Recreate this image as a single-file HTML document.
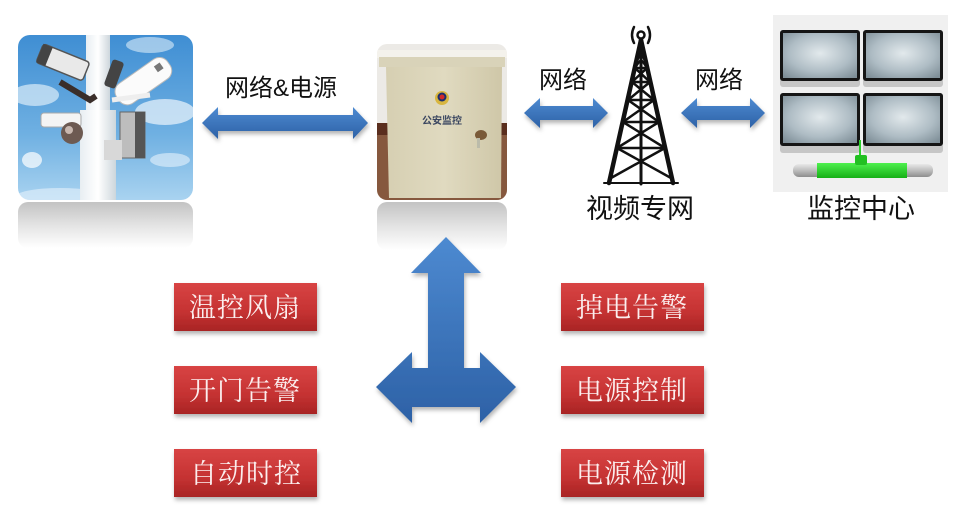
<!DOCTYPE html>
<html><head><meta charset="utf-8"><style>
html,body{margin:0;padding:0;background:#fff;}
body{width:954px;height:527px;overflow:hidden;position:relative;}
svg{position:absolute;left:0;top:0;}
.lbl{font-family:"Liberation Sans","Noto Sans CJK SC",sans-serif;fill:#111;}
.rb{font-family:"Noto Serif CJK SC",serif;fill:#fbeeee;font-size:27px;letter-spacing:1px;}
</style></head><body>
<svg width="954" height="527" viewBox="0 0 954 527" xmlns="http://www.w3.org/2000/svg">
<defs>
  <linearGradient id="sky" x1="0" y1="0" x2="0" y2="1">
    <stop offset="0" stop-color="#3f8ed3"/><stop offset="0.6" stop-color="#6fb0e2"/><stop offset="1" stop-color="#a9d3f0"/>
  </linearGradient>
  <linearGradient id="refl" x1="0" y1="0" x2="0" y2="1">
    <stop offset="0" stop-color="#bcbcbc"/><stop offset="0.5" stop-color="#e0e0e0"/><stop offset="1" stop-color="#ffffff"/>
  </linearGradient>
  <linearGradient id="blue" x1="0" y1="0" x2="0" y2="1">
    <stop offset="0" stop-color="#4d8ad1"/><stop offset="1" stop-color="#2d61a6"/>
  </linearGradient>
  <linearGradient id="red" x1="0" y1="0" x2="0" y2="1">
    <stop offset="0" stop-color="#d84444"/><stop offset="0.6" stop-color="#c53232"/><stop offset="1" stop-color="#a82424"/>
  </linearGradient>
  <radialGradient id="scr" cx="0.5" cy="0.45" r="0.7">
    <stop offset="0" stop-color="#e2e9ec"/><stop offset="0.6" stop-color="#aebcc4"/><stop offset="1" stop-color="#7f8f98"/>
  </radialGradient>
  <linearGradient id="pole" x1="0" y1="0" x2="1" y2="0">
    <stop offset="0" stop-color="#e8eef2"/><stop offset="0.5" stop-color="#ffffff"/><stop offset="1" stop-color="#cdd6dc"/>
  </linearGradient>
  <linearGradient id="cab" x1="0" y1="0" x2="1" y2="0">
    <stop offset="0" stop-color="#d6cfb2"/><stop offset="0.5" stop-color="#e0dac0"/><stop offset="1" stop-color="#cfc7a8"/>
  </linearGradient>
  <linearGradient id="bar" x1="0" y1="0" x2="0" y2="1">
    <stop offset="0" stop-color="#e8e8e8"/><stop offset="0.5" stop-color="#bdbdbd"/><stop offset="1" stop-color="#8d8d8d"/>
  </linearGradient>
  <linearGradient id="grn" x1="0" y1="0" x2="0" y2="1">
    <stop offset="0" stop-color="#4ef04e"/><stop offset="1" stop-color="#16b016"/>
  </linearGradient>
  <filter id="sh" x="-10%" y="-10%" width="130%" height="140%">
    <feDropShadow dx="1" dy="3" stdDeviation="2" flood-color="#000" flood-opacity="0.3"/>
  </filter>
  <clipPath id="camclip"><rect x="18" y="35" width="175" height="165" rx="12"/></clipPath>
  <clipPath id="cabclip"><rect x="377" y="44" width="130" height="156" rx="10"/></clipPath>
</defs>

<!-- Camera image -->
<rect x="18" y="202" width="175" height="46" rx="10" fill="url(#refl)" opacity="0.9"/>
<g clip-path="url(#camclip)">
  <rect x="18" y="35" width="175" height="165" fill="url(#sky)"/>
  <ellipse cx="35" cy="95" rx="24" ry="11" fill="#dcecf8" opacity="0.7"/>
  <ellipse cx="165" cy="112" rx="30" ry="13" fill="#e4f0fa" opacity="0.75"/>
  <ellipse cx="150" cy="45" rx="24" ry="8" fill="#dcecf8" opacity="0.6"/>
  <ellipse cx="170" cy="160" rx="20" ry="7" fill="#e6f2fb" opacity="0.6"/>
  <ellipse cx="32" cy="160" rx="10" ry="8" fill="#ffffff" opacity="0.7"/>
  <ellipse cx="60" cy="197" rx="45" ry="9" fill="#e6f2fb" opacity="0.6"/>
  <!-- pole -->
  <rect x="86" y="35" width="24" height="165" fill="url(#pole)"/>
  <rect x="80" y="110" width="36" height="90" fill="url(#pole)"/>
  <!-- top-left camera -->
  <g transform="rotate(22 62 62)">
    <rect x="38" y="52" width="50" height="20" rx="3" fill="#e9e9e9" stroke="#555" stroke-width="1.5"/>
    <rect x="38" y="52" width="10" height="20" fill="#444"/>
  </g>
  <path d="M60 82 L90 100 L96 96" stroke="#3a2e2a" stroke-width="6" fill="none"/>
  <rect x="108" y="60" width="12" height="28" rx="3" fill="#444" transform="rotate(20 114 74)"/>
  <g transform="rotate(-35 145 80)">
    <rect x="112" y="68" width="62" height="24" rx="10" fill="#fbfbfb" stroke="#bbb" stroke-width="1"/>
    <rect x="160" y="74" width="7" height="7" fill="#777"/>
  </g>
  <path d="M112 100 L150 95" stroke="#eee" stroke-width="5"/>
  <rect x="41" y="113" width="40" height="14" rx="3" fill="#f4f4f4" stroke="#aaa" stroke-width="1"/>
  <circle cx="72" cy="133" r="11" fill="#6d5a52"/>
  <circle cx="69" cy="130" r="4" fill="#c9b8b0"/>
  <rect x="120" y="112" width="25" height="46" fill="#bdbdbd" stroke="#666" stroke-width="1"/>
  <rect x="135" y="112" width="10" height="46" fill="#555"/>
  <rect x="104" y="140" width="18" height="20" fill="#d8d8d8"/>
</g>

<!-- Arrow 1 -->
<polygon points="202,123 218,107 218,115 353,115 353,107 368,123 353,139 353,131 218,131 218,139" fill="url(#blue)" filter="url(#sh)"/>
<text class="lbl" x="281" y="96" font-size="24" text-anchor="middle">网络&amp;电源</text>

<!-- Cabinet -->
<rect x="377" y="202" width="130" height="48" rx="10" fill="url(#refl)" opacity="0.9"/>
<g clip-path="url(#cabclip)">
  <rect x="377" y="44" width="130" height="156" fill="#eceae6"/>
  <rect x="377" y="123" width="130" height="12" fill="#5a2e1e"/>
  <rect x="377" y="135" width="130" height="65" fill="#86583e"/>
  <rect x="377" y="50" width="130" height="8" fill="#f4f2ec"/>
  <rect x="379" y="57" width="126" height="10" fill="#d9d3b9"/>
  <polygon points="386,67 502,67 501,198 389,198" fill="url(#cab)"/>
  <circle cx="442" cy="98" r="7" fill="#d8b640"/>
  <circle cx="442" cy="97" r="4.5" fill="#1c2f6e"/>
  <circle cx="442" cy="97" r="2.5" fill="#d02a2a"/>
  <text x="442" y="124" font-family="'Noto Sans CJK SC',sans-serif" font-size="10" font-weight="bold" fill="#3a4660" text-anchor="middle">公安监控</text>
  <ellipse cx="481" cy="135" rx="6" ry="5" fill="#7a5a38"/>
  <rect x="477" y="138" width="3" height="10" fill="#bba"/>
</g>

<!-- Arrow 2 -->
<polygon points="524,113 540,98 540,106 593,106 593,98 608,113 593,128 593,120 540,120 540,128" fill="url(#blue)" filter="url(#sh)"/>
<text class="lbl" x="563" y="88" font-size="24" text-anchor="middle">网络</text>

<!-- Tower -->
<g stroke="#111" fill="none" stroke-linecap="round">
  <circle cx="641" cy="35" r="3.5" stroke-width="2.5"/>
  <path d="M634 27 Q630 35 634 43" stroke-width="2.5"/>
  <path d="M648 27 Q652 35 648 43" stroke-width="2.5"/>
  <line x1="641" y1="39" x2="641" y2="184" stroke-width="3"/>
  <line x1="641" y1="40" x2="609" y2="183" stroke-width="4.5"/>
  <line x1="641" y1="40" x2="673" y2="183" stroke-width="4.5"/>
  <line x1="638" y1="55" x2="644" y2="55" stroke-width="2.5"/>
  <line x1="635" y1="68" x2="647" y2="68" stroke-width="2.5"/>
  <line x1="632" y1="82" x2="650" y2="82" stroke-width="2.5"/>
  <line x1="628" y1="100" x2="654" y2="100" stroke-width="2.5"/>
  <line x1="623" y1="122" x2="659" y2="122" stroke-width="2.5"/>
  <line x1="617" y1="148" x2="665" y2="148" stroke-width="2.5"/>
  <line x1="638" y1="55" x2="647" y2="68" stroke-width="2"/>
  <line x1="644" y1="55" x2="635" y2="68" stroke-width="2"/>
  <line x1="635" y1="68" x2="650" y2="82" stroke-width="2.5"/>
  <line x1="647" y1="68" x2="632" y2="82" stroke-width="2.5"/>
  <line x1="632" y1="82" x2="654" y2="100" stroke-width="2.5"/>
  <line x1="650" y1="82" x2="628" y2="100" stroke-width="2.5"/>
  <line x1="628" y1="100" x2="659" y2="122" stroke-width="2.5"/>
  <line x1="654" y1="100" x2="623" y2="122" stroke-width="2.5"/>
  <line x1="623" y1="122" x2="665" y2="148" stroke-width="2.5"/>
  <line x1="659" y1="122" x2="617" y2="148" stroke-width="2.5"/>
  <line x1="617" y1="148" x2="671" y2="178" stroke-width="2.5"/>
  <line x1="665" y1="148" x2="611" y2="178" stroke-width="2.5"/>
  <line x1="604" y1="183" x2="678" y2="183" stroke-width="2"/>
</g>
<text class="lbl" x="640" y="218" font-size="27" text-anchor="middle">视频专网</text>

<!-- Arrow 3 -->
<polygon points="681,113 697,98 697,106 750,106 750,98 765,113 750,128 750,120 697,120 697,128" fill="url(#blue)" filter="url(#sh)"/>
<text class="lbl" x="719" y="88" font-size="24" text-anchor="middle">网络</text>

<!-- Monitor center -->
<rect x="773" y="15" width="175" height="177" fill="#f0f0f0"/>
<g>
  <rect x="780" y="30" width="80" height="57" rx="3" fill="#c6c6c6"/>
  <rect x="780" y="30" width="80" height="51" rx="3" fill="#151515"/>
  <rect x="783" y="33" width="74" height="45" fill="url(#scr)"/>
  <rect x="863" y="30" width="80" height="57" rx="3" fill="#c6c6c6"/>
  <rect x="863" y="30" width="80" height="51" rx="3" fill="#151515"/>
  <rect x="866" y="33" width="74" height="45" fill="url(#scr)"/>
  <rect x="780" y="93" width="80" height="60" rx="3" fill="#c6c6c6"/>
  <rect x="780" y="93" width="80" height="53" rx="3" fill="#151515"/>
  <rect x="783" y="96" width="74" height="47" fill="url(#scr)"/>
  <rect x="863" y="93" width="80" height="60" rx="3" fill="#c6c6c6"/>
  <rect x="863" y="93" width="80" height="53" rx="3" fill="#151515"/>
  <rect x="866" y="96" width="74" height="47" fill="url(#scr)"/>
  <line x1="860" y1="140" x2="860" y2="158" stroke="#2bcf2b" stroke-width="2"/>
  <rect x="793" y="164" width="140" height="13" rx="6" fill="url(#bar)"/>
  <rect x="817" y="163" width="90" height="15" fill="url(#grn)"/>
  <rect x="855" y="155" width="12" height="10" rx="2" fill="#22c022"/>
</g>
<text class="lbl" x="861" y="218" font-size="27" text-anchor="middle">监控中心</text>

<!-- T arrow -->
<polygon points="446,237 481,273 464,273 464,368 480,368 480,352 516,387 480,423 480,407 412,407 412,423 376,387 412,352 412,368 428,368 428,273 411,273" fill="url(#blue)" filter="url(#sh)"/>

<!-- Red boxes -->
<g filter="url(#sh)">
  <rect x="174" y="283" width="143" height="48" fill="url(#red)"/>
  <rect x="174" y="366" width="143" height="48" fill="url(#red)"/>
  <rect x="174" y="449" width="143" height="48" fill="url(#red)"/>
  <rect x="561" y="283" width="143" height="48" fill="url(#red)"/>
  <rect x="561" y="366" width="143" height="48" fill="url(#red)"/>
  <rect x="561" y="449" width="143" height="48" fill="url(#red)"/>
</g>
<text class="rb" x="245" y="317" text-anchor="middle">温控风扇</text>
<text class="rb" x="245" y="400" text-anchor="middle">开门告警</text>
<text class="rb" x="246" y="483" text-anchor="middle">自动时控</text>
<text class="rb" x="632" y="317" text-anchor="middle">掉电告警</text>
<text class="rb" x="632" y="400" text-anchor="middle">电源控制</text>
<text class="rb" x="632" y="483" text-anchor="middle">电源检测</text>
</svg>
</body></html>
